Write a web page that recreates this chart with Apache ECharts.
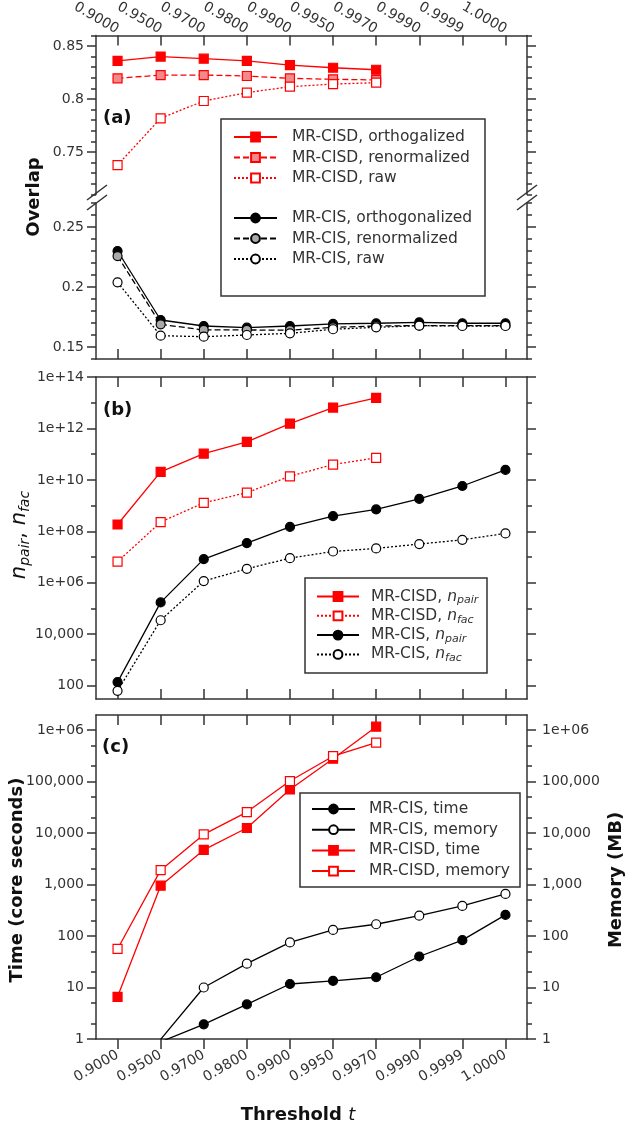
<!DOCTYPE html>
<html><head><meta charset="utf-8">
<script src="https://cdn.jsdelivr.net/npm/echarts@6/dist/echarts.min.js"></script>
<style>html,body{margin:0;padding:0;background:#fff}#c{width:628px;height:1123px}</style>
</head><body><div id="c"></div><script>
// ---------- data ----------
const categories = ['0.9000','0.9500','0.9700','0.9800','0.9900','0.9950','0.9970','0.9990','0.9999','1.0000'];

// panel (a) overlap
const cisdOrtho  = [0.836, 0.840, 0.838, 0.836, 0.832, 0.8295, 0.8276, null, null, null];
const cisdRenorm = [0.8195, 0.8226, 0.8226, 0.8217, 0.8195, 0.8186, 0.818, null, null, null];
const cisdRaw    = [0.7377, 0.7818, 0.7981, 0.806, 0.8116, 0.8141, 0.8154, null, null, null];
const cisOrtho   = [0.230, 0.1725, 0.1675, 0.1661, 0.1675, 0.1692, 0.1698, 0.1706, 0.1698, 0.1698];
const cisRenorm  = [0.2258, 0.1689, 0.1642, 0.1642, 0.164, 0.1664, 0.1675, 0.1678, 0.1678, 0.1678];
const cisRaw     = [0.2039, 0.1594, 0.1586, 0.160, 0.1614, 0.1648, 0.1664, 0.1678, 0.1675, 0.1675];

// panel (b) counts
const cisdPair = [1.85e8, 2.05e10, 1.05e11, 3.0e11, 1.55e12, 6.5e12, 1.53e13, null, null, null];
const cisdFac  = [6.6e6, 2.3e8, 1.28e9, 3.2e9, 1.38e10, 3.95e10, 7.2e10, null, null, null];
const cisPair  = [138, 1.73e5, 8.3e6, 3.5e7, 1.49e8, 3.9e8, 7.1e8, 1.82e9, 5.8e9, 2.45e10];
const cisFac   = [63, 3.5e4, 1.17e6, 3.5e6, 9.1e6, 1.65e7, 2.17e7, 3.2e7, 4.7e7, 8.3e7];

// panel (c) time / memory
const cisdTime = [6.6, 950, 4700, 12500, 70000, 277000, 1160000, null, null, null];
const cisdMem  = [56, 1900, 9400, 25500, 102000, 310000, 570000, null, null, null];
const cisTime  = [null, 0.88, 1.93, 4.7, 11.7, 13.5, 15.8, 40, 83, 257];
const cisMem   = [null, 0.98, 10, 29, 75, 131, 169, 248, 383, 656];

// tick labels
const overlapUpperLabels = [0.75, 0.8, 0.85];
const overlapLowerLabels = [0.15, 0.2, 0.25];
const countLabels = [1e2, 1e4, 1e6, 1e8, 1e10, 1e12, 1e14];
const timeLabels  = [1, 10, 100, 1e3, 1e4, 1e5, 1e6];

// ---------- helpers ----------
const FONT = 'DejaVu Sans';
const INK = '#333333';
const RED = '#ff0000', PINK = '#f4898b', GRAY = '#a9a9a9', BLACK = '#000000';

function range(a, b, step) { const r = []; for (let v = a; v <= b + 1e-9; v += step) r.push(Math.round(v * 1000) / 1000); return r; }
const upperMinor = range(0.71, 0.86, 0.01);
const lowerMinor = range(0.14, 0.27, 0.01);
const countMinor = [1e3, 1e5, 1e7, 1e9, 1e11, 1e13];
const timeMinor = [];
[1, 10, 100, 1e3, 1e4, 1e5, 1e6].forEach(d => { timeMinor.push(2 * d, 5 * d); });

function sciLabel(v) {
  const e = Math.round(Math.log10(v));
  if (e >= 6) return '1e+' + String(e).padStart(2, '0');
  return Math.round(v).toLocaleString('en-US');
}
function plainLabel(v) { return String(+v.toFixed(2)); }

function xAx(gi, pos, o) {
  const lab = { show: o.rotate !== undefined, interval: 0, rotate: o.rotate || 0, margin: o.margin || 8, fontSize: 14, color: INK, fontFamily: FONT };
  if (o.align) lab.align = o.align;
  if (o.valign) lab.verticalAlign = o.valign;
  return {
    type: 'category', gridIndex: gi, position: pos, data: categories, boundaryGap: true,
    axisLine: { show: true, onZero: false, lineStyle: { color: INK, width: 1.5 } },
    axisTick: { show: true, alignWithLabel: true, interval: 0, inside: !!o.inside, length: 10, lineStyle: { color: INK, width: 1.5 } },
    axisLabel: lab,
    splitLine: { show: false }
  };
}
function yAx(gi, pos, type, min, max, o) {
  const a = {
    type, gridIndex: gi, position: pos, min, max,
    axisLine: { show: !!o.line, onZero: false, lineStyle: { color: INK, width: 1.5 } },
    axisTick: { show: true, inside: false, length: o.len, customValues: o.ticks, lineStyle: { color: INK, width: 1.5 } },
    axisLabel: { show: !!o.labels, customValues: o.labels, formatter: o.fmt, margin: o.margin || 12, fontSize: 14, color: INK, fontFamily: FONT },
    splitLine: { show: false }, minorTick: { show: false }
  };
  if (type === 'log') a.logBase = 10;
  return a;
}
function ser(name, data, xi, yi, color, fill, dash, symbol) {
  return {
    type: 'line', name, data, xAxisIndex: xi, yAxisIndex: yi,
    symbol, symbolSize: 9, showAllSymbols: true, clip: true, connectNulls: false,
    lineStyle: { color, width: 1.3, type: dash },
    itemStyle: { color: fill, borderColor: color, borderWidth: 1.2 },
    emphasis: { disabled: true }, animation: false
  };
}

// ---------- grids ----------
const L = 96, R = 628 - 527;
const grids = [
  { left: L, right: R, top: 35.4, height: 159, outerBoundsMode: 'none' },   // (a) upper
  { left: L, right: R, top: 203, height: 156, outerBoundsMode: 'none' },    // (a) lower
  { left: L, right: R, top: 377, height: 322, outerBoundsMode: 'none' },    // (b)
  { left: L, right: R, top: 715, height: 324, outerBoundsMode: 'none' }     // (c)
];

const xAxes = [
  xAx(0, 'top', { inside: true, rotate: 30, margin: 5, align: 'right', valign: 'middle' }),
  xAx(1, 'bottom', { inside: true }),
  xAx(2, 'top', { inside: true }),
  xAx(2, 'bottom', { inside: true }),
  xAx(3, 'top', { inside: true }),
  xAx(3, 'bottom', { inside: false, rotate: 30, margin: 15 })
];

const bMin = 30.4, bMax = 1e14, cMin = 1, cMax = 1.955e6;
const yAxes = [
  yAx(0, 'left', 'value', 0.71, 0.86, { line: true, len: 9, ticks: overlapUpperLabels, labels: overlapUpperLabels, fmt: plainLabel }),
  yAx(0, 'left', 'value', 0.71, 0.86, { len: 5, ticks: upperMinor }),
  yAx(0, 'right', 'value', 0.71, 0.86, { line: true, len: 9, ticks: overlapUpperLabels }),
  yAx(0, 'right', 'value', 0.71, 0.86, { len: 5, ticks: upperMinor }),
  yAx(1, 'left', 'value', 0.14, 0.27, { line: true, len: 9, ticks: overlapLowerLabels, labels: overlapLowerLabels, fmt: plainLabel }),
  yAx(1, 'left', 'value', 0.14, 0.27, { len: 5, ticks: lowerMinor }),
  yAx(1, 'right', 'value', 0.14, 0.27, { line: true, len: 9, ticks: overlapLowerLabels }),
  yAx(1, 'right', 'value', 0.14, 0.27, { len: 5, ticks: lowerMinor }),
  yAx(2, 'left', 'log', bMin, bMax, { line: true, len: 9, ticks: countLabels, labels: countLabels, fmt: sciLabel }),
  yAx(2, 'left', 'log', bMin, bMax, { len: 5, ticks: countMinor }),
  yAx(2, 'right', 'log', bMin, bMax, { line: true, len: 9, ticks: countLabels }),
  yAx(2, 'right', 'log', bMin, bMax, { len: 5, ticks: countMinor }),
  yAx(3, 'left', 'log', cMin, cMax, { line: true, len: 9, ticks: timeLabels, labels: timeLabels, fmt: sciLabel }),
  yAx(3, 'left', 'log', cMin, cMax, { len: 5, ticks: timeMinor }),
  yAx(3, 'right', 'log', cMin, cMax, { line: true, len: 9, ticks: timeLabels, labels: timeLabels, fmt: sciLabel, margin: 15 }),
  yAx(3, 'right', 'log', cMin, cMax, { len: 5, ticks: timeMinor })
];

const DASH = [6, 3], DOT = [2, 2];
const series = [
  ser('MR-CISD, orthogalized', cisdOrtho, 0, 0, RED, RED, 'solid', 'rect'),
  ser('MR-CISD, renormalized', cisdRenorm, 0, 0, RED, PINK, DASH, 'rect'),
  ser('MR-CISD, raw', cisdRaw, 0, 0, RED, '#ffffff', DOT, 'rect'),
  ser('MR-CIS, orthogonalized', cisOrtho, 1, 4, BLACK, BLACK, 'solid', 'circle'),
  ser('MR-CIS, renormalized', cisRenorm, 1, 4, BLACK, GRAY, DASH, 'circle'),
  ser('MR-CIS, raw', cisRaw, 1, 4, BLACK, '#ffffff', DOT, 'circle'),
  ser('MR-CISD, n_pair', cisdPair, 3, 8, RED, RED, 'solid', 'rect'),
  ser('MR-CISD, n_fac', cisdFac, 3, 8, RED, '#ffffff', DOT, 'rect'),
  ser('MR-CIS, n_pair', cisPair, 3, 8, BLACK, BLACK, 'solid', 'circle'),
  ser('MR-CIS, n_fac', cisFac, 3, 8, BLACK, '#ffffff', DOT, 'circle'),
  ser('MR-CIS, time', cisTime, 5, 12, BLACK, BLACK, 'solid', 'circle'),
  ser('MR-CIS, memory', cisMem, 5, 12, BLACK, '#ffffff', 'solid', 'circle'),
  ser('MR-CISD, time', cisdTime, 5, 12, RED, RED, 'solid', 'rect'),
  ser('MR-CISD, memory', cisdMem, 5, 12, RED, '#ffffff', 'solid', 'rect')
];

function leg(names, left, top, padLeft, extra) {
  return Object.assign({
    show: true, orient: 'vertical', left, top, padding: 0, itemWidth: 43, itemHeight: 11, itemGap: 2.5,
    selectedMode: false, data: names,
    textStyle: { fontSize: 15.5, fontFamily: FONT, color: INK, lineHeight: 18, padding: [0, 0, 0, padLeft] }
  }, extra || {});
}
const richSub = {
  n: { fontStyle: 'italic', fontSize: 15.5, fontFamily: FONT, color: INK, lineHeight: 18 },
  s: { fontStyle: 'italic', fontSize: 11, fontFamily: FONT, color: INK, lineHeight: 12, padding: [8, 0, 0, 0] }
};
const legends = [
  leg(['MR-CISD, orthogalized', 'MR-CISD, renormalized', 'MR-CISD, raw'], 233, 128, 10),
  leg(['MR-CIS, orthogonalized', 'MR-CIS, renormalized', 'MR-CIS, raw'], 233, 209, 10),
  leg(['MR-CISD, n_pair', 'MR-CISD, n_fac', 'MR-CIS, n_pair', 'MR-CIS, n_fac'], 316, 587, 7, {
    itemWidth: 42, itemGap: 0.3,
    formatter: name => name.replace(/n_(\w+)/, '{n|n}{s|$1}'),
    textStyle: { fontSize: 15.5, fontFamily: FONT, color: INK, lineHeight: 18, padding: [0, 0, 0, 7], rich: richSub }
  }),
  leg(['MR-CIS, time', 'MR-CIS, memory', 'MR-CISD, time', 'MR-CISD, memory'], 311, 800, 9, { itemGap: 2.7 })
];

function box(x, y, w, h) { return { type: 'rect', shape: { x, y, width: w, height: h }, style: { fill: 'none', stroke: INK, lineWidth: 1.5 }, z: 10 }; }
function seg(x1, y1, x2, y2) { return { type: 'line', shape: { x1, y1, x2, y2 }, style: { stroke: INK, lineWidth: 1.5 }, z: 10 }; }
function txt(x, y, text, o) {
  return { type: 'text', x, y, rotation: o.rot || 0, z: 10,
    style: { text, x: 0, y: 0, align: o.align || 'center', verticalAlign: 'middle', fill: o.fill || '#111', font: o.font, rich: o.rich } };
}
const BOLD18 = 'bold 18px "DejaVu Sans"';
const graphics = [
  box(221, 119, 264, 177),
  box(305, 578, 182, 95),
  box(300, 793, 220, 94),
  seg(87, 200, 107, 185), seg(87, 210, 107, 195),
  seg(517, 200, 537, 185), seg(517, 210, 537, 195),
  txt(103, 118, '(a)', { align: 'left', font: BOLD18 }),
  txt(103, 410, '(b)', { align: 'left', font: BOLD18 }),
  txt(102, 747, '(c)', { align: 'left', font: BOLD18 }),
  txt(34, 197, 'Overlap', { rot: Math.PI / 2, font: BOLD18 }),
  txt(20, 535, '{n|n}{s|pair}{c|, }{n|n}{s|fac}', { rot: Math.PI / 2, font: '21px "DejaVu Sans"', rich: {
    n: { fontStyle: 'italic', fontSize: 21, fontFamily: FONT, lineHeight: 22, fill: '#111' },
    c: { fontSize: 21, fontFamily: FONT, lineHeight: 22, fill: '#111' },
    s: { fontStyle: 'italic', fontSize: 14, fontFamily: FONT, lineHeight: 14, padding: [10, 0, 0, 0], fill: '#111' } } }),
  txt(17, 880, 'Time (core seconds)', { rot: Math.PI / 2, font: BOLD18 }),
  txt(616, 880, 'Memory (MB)', { rot: Math.PI / 2, font: BOLD18 }),
  txt(298, 1115, '{b|Threshold }{t|t}', { font: BOLD18, rich: {
    b: { fontWeight: 'bold', fontSize: 18, fontFamily: FONT, fill: '#111' },
    t: { fontStyle: 'italic', fontSize: 18, fontFamily: FONT, fill: '#111' } } })
];

const chart = echarts.init(document.getElementById('c'), null, { renderer: 'canvas' });
chart.setOption({
  backgroundColor: '#ffffff',
  animation: false,
  textStyle: { fontFamily: FONT },
  grid: grids,
  xAxis: xAxes,
  yAxis: yAxes,
  legend: legends,
  series: series,
  graphic: graphics
});
</script></body></html>
